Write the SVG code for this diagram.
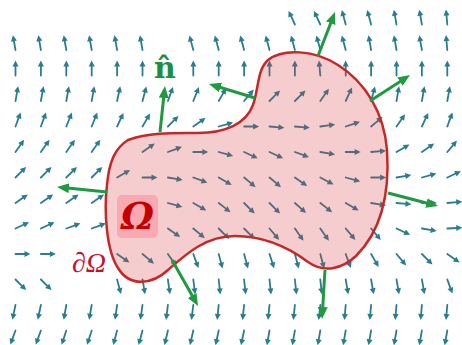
<svg xmlns="http://www.w3.org/2000/svg" width="462" height="345" viewBox="0 0 462 345">
<style>
.v line{stroke:#2a7d90;stroke-width:1.8;stroke-linecap:round}
.v path{fill:#2a7d90}
.n{stroke:#1f9a40;stroke-width:3;fill:none;marker-end:url(#gh)}
.lbl{font-family:"DejaVu Serif","Liberation Serif",serif}
</style>
<defs>
<g id="v" class="v"><line x1="0" y1="0" x2="10" y2="0"/><path d="M15,0 L9,-3 L9,3 Z"/></g>
<marker id="gh" markerUnits="userSpaceOnUse" markerWidth="13" markerHeight="11" refX="4" refY="5" orient="auto"><path d="M0,0 L12,5 L0,10 Z" fill="#1f9a40"/></marker>
</defs>
<rect width="462" height="345" fill="#ffffff"/>
<g id="field">
<use href="#v" transform="translate(294.9,24.5) rotate(-115)"/>
<use href="#v" transform="translate(320.3,24.5) rotate(-115)"/>
<use href="#v" transform="translate(345.7,24.5) rotate(-105)"/>
<use href="#v" transform="translate(371.1,24.5) rotate(-105)"/>
<use href="#v" transform="translate(396.5,24.5) rotate(-100)"/>
<use href="#v" transform="translate(421.9,24.5) rotate(-100)"/>
<use href="#v" transform="translate(447.3,24.5) rotate(-95)"/>
<use href="#v" transform="translate(15.5,50) rotate(-100)"/>
<use href="#v" transform="translate(40.9,50) rotate(-100)"/>
<use href="#v" transform="translate(66.3,50) rotate(-100)"/>
<use href="#v" transform="translate(91.7,50) rotate(-100)"/>
<use href="#v" transform="translate(117.1,50) rotate(-100)"/>
<use href="#v" transform="translate(142.5,50) rotate(-100)"/>
<use href="#v" transform="translate(193.3,50) rotate(-105)"/>
<use href="#v" transform="translate(218.7,50) rotate(-105)"/>
<use href="#v" transform="translate(244.1,50) rotate(-105)"/>
<use href="#v" transform="translate(269.5,50) rotate(-105)"/>
<use href="#v" transform="translate(294.9,50) rotate(-105)"/>
<use href="#v" transform="translate(320.3,50) rotate(-105)"/>
<use href="#v" transform="translate(345.7,50) rotate(-105)"/>
<use href="#v" transform="translate(371.1,50) rotate(-100)"/>
<use href="#v" transform="translate(396.5,50) rotate(-100)"/>
<use href="#v" transform="translate(421.9,50) rotate(-100)"/>
<use href="#v" transform="translate(447.3,50) rotate(-95)"/>
<use href="#v" transform="translate(15.5,75.5) rotate(-90)"/>
<use href="#v" transform="translate(40.9,75.5) rotate(-90)"/>
<use href="#v" transform="translate(66.3,75.5) rotate(-90)"/>
<use href="#v" transform="translate(91.7,75.5) rotate(-90)"/>
<use href="#v" transform="translate(117.1,75.5) rotate(-90)"/>
<use href="#v" transform="translate(142.5,75.5) rotate(-90)"/>
<use href="#v" transform="translate(193.3,75.5) rotate(-90)"/>
<use href="#v" transform="translate(218.7,75.5) rotate(-90)"/>
<use href="#v" transform="translate(244.1,75.5) rotate(-90)"/>
<use href="#v" transform="translate(269.5,75.5) rotate(-90)"/>
<use href="#v" transform="translate(294.9,75.5) rotate(-90)"/>
<use href="#v" transform="translate(320.3,75.5) rotate(-95)"/>
<use href="#v" transform="translate(345.7,75.5) rotate(-90)"/>
<use href="#v" transform="translate(371.1,75.5) rotate(-90)"/>
<use href="#v" transform="translate(396.5,75.5) rotate(-90)"/>
<use href="#v" transform="translate(421.9,75.5) rotate(-90)"/>
<use href="#v" transform="translate(447.3,75.5) rotate(-90)"/>
<use href="#v" transform="translate(15.5,101) rotate(-80)"/>
<use href="#v" transform="translate(40.9,101) rotate(-80)"/>
<use href="#v" transform="translate(66.3,101) rotate(-80)"/>
<use href="#v" transform="translate(91.7,101) rotate(-80)"/>
<use href="#v" transform="translate(117.1,101) rotate(-78)"/>
<use href="#v" transform="translate(142.5,101) rotate(-75)"/>
<use href="#v" transform="translate(167.9,101) rotate(-70)"/>
<use href="#v" transform="translate(193.3,101) rotate(-68)"/>
<use href="#v" transform="translate(218.7,101) rotate(-60)"/>
<use href="#v" transform="translate(244.1,101) rotate(-50)"/>
<use href="#v" transform="translate(269.5,101) rotate(-45)"/>
<use href="#v" transform="translate(294.9,101) rotate(-45)"/>
<use href="#v" transform="translate(320.3,101) rotate(-55)"/>
<use href="#v" transform="translate(345.7,101) rotate(-65)"/>
<use href="#v" transform="translate(371.1,101) rotate(-75)"/>
<use href="#v" transform="translate(396.5,101) rotate(-80)"/>
<use href="#v" transform="translate(421.9,101) rotate(-80)"/>
<use href="#v" transform="translate(447.3,101) rotate(-80)"/>
<use href="#v" transform="translate(15.5,126.5) rotate(-70)"/>
<use href="#v" transform="translate(40.9,126.5) rotate(-70)"/>
<use href="#v" transform="translate(66.3,126.5) rotate(-68)"/>
<use href="#v" transform="translate(91.7,126.5) rotate(-68)"/>
<use href="#v" transform="translate(117.1,126.5) rotate(-65)"/>
<use href="#v" transform="translate(142.5,126.5) rotate(-60)"/>
<use href="#v" transform="translate(167.9,126.5) rotate(-45)"/>
<use href="#v" transform="translate(193.3,126.5) rotate(-35)"/>
<use href="#v" transform="translate(218.7,126.5) rotate(-15)"/>
<use href="#v" transform="translate(244.1,126.5) rotate(0)"/>
<use href="#v" transform="translate(269.5,126.5) rotate(5)"/>
<use href="#v" transform="translate(294.9,126.5) rotate(5)"/>
<use href="#v" transform="translate(320.3,126.5) rotate(-8)"/>
<use href="#v" transform="translate(345.7,126.5) rotate(-18)"/>
<use href="#v" transform="translate(371.1,126.5) rotate(-40)"/>
<use href="#v" transform="translate(396.5,126.5) rotate(-55)"/>
<use href="#v" transform="translate(421.9,126.5) rotate(-65)"/>
<use href="#v" transform="translate(447.3,126.5) rotate(-70)"/>
<use href="#v" transform="translate(15.5,152) rotate(-55)"/>
<use href="#v" transform="translate(40.9,152) rotate(-55)"/>
<use href="#v" transform="translate(66.3,152) rotate(-55)"/>
<use href="#v" transform="translate(91.7,152) rotate(-55)"/>
<use href="#v" transform="translate(142.5,152) rotate(-35)"/>
<use href="#v" transform="translate(167.9,152) rotate(-20)"/>
<use href="#v" transform="translate(193.3,152) rotate(0)"/>
<use href="#v" transform="translate(218.7,152) rotate(15)"/>
<use href="#v" transform="translate(244.1,152) rotate(25)"/>
<use href="#v" transform="translate(269.5,152) rotate(25)"/>
<use href="#v" transform="translate(294.9,152) rotate(20)"/>
<use href="#v" transform="translate(320.3,152) rotate(10)"/>
<use href="#v" transform="translate(345.7,152) rotate(0)"/>
<use href="#v" transform="translate(371.1,152) rotate(-5)"/>
<use href="#v" transform="translate(396.5,152) rotate(-30)"/>
<use href="#v" transform="translate(421.9,152) rotate(-35)"/>
<use href="#v" transform="translate(447.3,152) rotate(-50)"/>
<use href="#v" transform="translate(15.5,177.5) rotate(-45)"/>
<use href="#v" transform="translate(40.9,177.5) rotate(-45)"/>
<use href="#v" transform="translate(66.3,177.5) rotate(-45)"/>
<use href="#v" transform="translate(91.7,177.5) rotate(-45)"/>
<use href="#v" transform="translate(117.1,177.5) rotate(-30)"/>
<use href="#v" transform="translate(142.5,177.5) rotate(0)"/>
<use href="#v" transform="translate(167.9,177.5) rotate(10)"/>
<use href="#v" transform="translate(193.3,177.5) rotate(20)"/>
<use href="#v" transform="translate(218.7,177.5) rotate(30)"/>
<use href="#v" transform="translate(244.1,177.5) rotate(40)"/>
<use href="#v" transform="translate(269.5,177.5) rotate(40)"/>
<use href="#v" transform="translate(294.9,177.5) rotate(35)"/>
<use href="#v" transform="translate(320.3,177.5) rotate(28)"/>
<use href="#v" transform="translate(345.7,177.5) rotate(15)"/>
<use href="#v" transform="translate(371.1,177.5) rotate(0)"/>
<use href="#v" transform="translate(396.5,177.5) rotate(-10)"/>
<use href="#v" transform="translate(421.9,177.5) rotate(-15)"/>
<use href="#v" transform="translate(447.3,177.5) rotate(-25)"/>
<use href="#v" transform="translate(15.5,203) rotate(-35)"/>
<use href="#v" transform="translate(40.9,203) rotate(-35)"/>
<use href="#v" transform="translate(66.3,203) rotate(-35)"/>
<use href="#v" transform="translate(91.7,203) rotate(-35)"/>
<use href="#v" transform="translate(167.9,203) rotate(15)"/>
<use href="#v" transform="translate(193.3,203) rotate(30)"/>
<use href="#v" transform="translate(218.7,203) rotate(38)"/>
<use href="#v" transform="translate(244.1,203) rotate(45)"/>
<use href="#v" transform="translate(269.5,203) rotate(45)"/>
<use href="#v" transform="translate(294.9,203) rotate(42)"/>
<use href="#v" transform="translate(320.3,203) rotate(38)"/>
<use href="#v" transform="translate(345.7,203) rotate(30)"/>
<use href="#v" transform="translate(371.1,203) rotate(10)"/>
<use href="#v" transform="translate(396.5,203) rotate(5)"/>
<use href="#v" transform="translate(421.9,203) rotate(0)"/>
<use href="#v" transform="translate(447.3,203) rotate(-5)"/>
<use href="#v" transform="translate(15.5,228.5) rotate(-25)"/>
<use href="#v" transform="translate(40.9,228.5) rotate(-25)"/>
<use href="#v" transform="translate(66.3,228.5) rotate(-20)"/>
<use href="#v" transform="translate(91.7,228.5) rotate(-20)"/>
<use href="#v" transform="translate(167.9,228.5) rotate(35)"/>
<use href="#v" transform="translate(193.3,228.5) rotate(40)"/>
<use href="#v" transform="translate(218.7,228.5) rotate(45)"/>
<use href="#v" transform="translate(244.1,228.5) rotate(45)"/>
<use href="#v" transform="translate(269.5,228.5) rotate(50)"/>
<use href="#v" transform="translate(294.9,228.5) rotate(55)"/>
<use href="#v" transform="translate(320.3,228.5) rotate(55)"/>
<use href="#v" transform="translate(345.7,228.5) rotate(50)"/>
<use href="#v" transform="translate(371.1,228.5) rotate(50)"/>
<use href="#v" transform="translate(396.5,228.5) rotate(25)"/>
<use href="#v" transform="translate(421.9,228.5) rotate(10)"/>
<use href="#v" transform="translate(447.3,228.5) rotate(-3)"/>
<use href="#v" transform="translate(15.5,254) rotate(0)"/>
<use href="#v" transform="translate(40.9,254) rotate(0)"/>
<use href="#v" transform="translate(117.1,254) rotate(35)"/>
<use href="#v" transform="translate(142.5,254) rotate(40)"/>
<use href="#v" transform="translate(167.9,254) rotate(55)"/>
<use href="#v" transform="translate(193.3,254) rotate(70)"/>
<use href="#v" transform="translate(218.7,254) rotate(75)"/>
<use href="#v" transform="translate(244.1,254) rotate(75)"/>
<use href="#v" transform="translate(269.5,254) rotate(72)"/>
<use href="#v" transform="translate(294.9,254) rotate(75)"/>
<use href="#v" transform="translate(320.3,254) rotate(75)"/>
<use href="#v" transform="translate(345.7,254) rotate(70)"/>
<use href="#v" transform="translate(371.1,254) rotate(60)"/>
<use href="#v" transform="translate(396.5,254) rotate(50)"/>
<use href="#v" transform="translate(421.9,254) rotate(45)"/>
<use href="#v" transform="translate(447.3,254) rotate(35)"/>
<use href="#v" transform="translate(15.5,279.5) rotate(45)"/>
<use href="#v" transform="translate(40.9,279.5) rotate(45)"/>
<use href="#v" transform="translate(117.1,279.5) rotate(75)"/>
<use href="#v" transform="translate(142.5,279.5) rotate(80)"/>
<use href="#v" transform="translate(167.9,279.5) rotate(82)"/>
<use href="#v" transform="translate(193.3,279.5) rotate(83)"/>
<use href="#v" transform="translate(218.7,279.5) rotate(84)"/>
<use href="#v" transform="translate(244.1,279.5) rotate(84)"/>
<use href="#v" transform="translate(269.5,279.5) rotate(84)"/>
<use href="#v" transform="translate(294.9,279.5) rotate(84)"/>
<use href="#v" transform="translate(320.3,279.5) rotate(84)"/>
<use href="#v" transform="translate(345.7,279.5) rotate(80)"/>
<use href="#v" transform="translate(371.1,279.5) rotate(80)"/>
<use href="#v" transform="translate(396.5,279.5) rotate(80)"/>
<use href="#v" transform="translate(421.9,279.5) rotate(80)"/>
<use href="#v" transform="translate(447.3,279.5) rotate(70)"/>
<use href="#v" transform="translate(15.5,305) rotate(102)"/>
<use href="#v" transform="translate(40.9,305) rotate(102)"/>
<use href="#v" transform="translate(66.3,305) rotate(100)"/>
<use href="#v" transform="translate(91.7,305) rotate(100)"/>
<use href="#v" transform="translate(117.1,305) rotate(98)"/>
<use href="#v" transform="translate(142.5,305) rotate(98)"/>
<use href="#v" transform="translate(167.9,305) rotate(97)"/>
<use href="#v" transform="translate(193.3,305) rotate(97)"/>
<use href="#v" transform="translate(218.7,305) rotate(96)"/>
<use href="#v" transform="translate(244.1,305) rotate(96)"/>
<use href="#v" transform="translate(269.5,305) rotate(96)"/>
<use href="#v" transform="translate(294.9,305) rotate(96)"/>
<use href="#v" transform="translate(320.3,305) rotate(96)"/>
<use href="#v" transform="translate(345.7,305) rotate(95)"/>
<use href="#v" transform="translate(371.1,305) rotate(95)"/>
<use href="#v" transform="translate(396.5,305) rotate(95)"/>
<use href="#v" transform="translate(421.9,305) rotate(95)"/>
<use href="#v" transform="translate(447.3,305) rotate(95)"/>
<use href="#v" transform="translate(15.5,330.5) rotate(110)"/>
<use href="#v" transform="translate(40.9,330.5) rotate(110)"/>
<use href="#v" transform="translate(66.3,330.5) rotate(108)"/>
<use href="#v" transform="translate(91.7,330.5) rotate(108)"/>
<use href="#v" transform="translate(117.1,330.5) rotate(105)"/>
<use href="#v" transform="translate(142.5,330.5) rotate(105)"/>
<use href="#v" transform="translate(167.9,330.5) rotate(103)"/>
<use href="#v" transform="translate(193.3,330.5) rotate(103)"/>
<use href="#v" transform="translate(218.7,330.5) rotate(102)"/>
<use href="#v" transform="translate(244.1,330.5) rotate(102)"/>
<use href="#v" transform="translate(269.5,330.5) rotate(100)"/>
<use href="#v" transform="translate(294.9,330.5) rotate(100)"/>
<use href="#v" transform="translate(320.3,330.5) rotate(100)"/>
<use href="#v" transform="translate(345.7,330.5) rotate(100)"/>
<use href="#v" transform="translate(371.1,330.5) rotate(100)"/>
<use href="#v" transform="translate(396.5,330.5) rotate(100)"/>
<use href="#v" transform="translate(421.9,330.5) rotate(100)"/>
<use href="#v" transform="translate(447.3,330.5) rotate(100)"/>
</g>
<g id="region">
<path d="M128,140 C150,132 175,133 198,133 C225,133 246,124 253,105 C259,88 257,70 268,60 C283,48 315,50 338,65 C365,82 384,112 387,150 C390,195 380,232 356,256 C343,268 325,274 308,262 C288,247 265,236 235,236 C205,236 185,255 168,270 C153,284 130,288 118,268 C106,250 104,210 107,185 C109,162 115,148 128,140 Z" fill="#d9363e" fill-opacity="0.25" stroke="#c62828" stroke-width="2.5"/>
</g>
<g id="omega-label">
<rect x="117" y="195" width="41" height="43" rx="5" fill="#f9a9b2"/>
<text x="137.5" y="229" text-anchor="middle" class="lbl" font-family="Liberation Serif" font-size="37" font-weight="bold" font-style="italic" fill="#c40000">Ω</text>
</g>
<g id="boundary-label">
<text x="72" y="272" class="lbl" font-size="28" font-style="italic" fill="#c8102e" style="font-family:'Liberation Serif',serif">∂Ω</text>
</g>
<g id="normals">
<line class="n" x1="160" y1="132" x2="164.1" y2="94"/>
<line class="n" x1="255" y1="98" x2="216.6" y2="86.3"/>
<line class="n" x1="318" y1="56" x2="332.1" y2="19.5"/>
<line class="n" x1="370" y1="101" x2="403.3" y2="79.4"/>
<line class="n" x1="388" y1="193" x2="430.3" y2="204"/>
<line class="n" x1="325" y1="270" x2="322.5" y2="311"/>
<line class="n" x1="172" y1="260" x2="194.1" y2="299"/>
<line class="n" x1="107" y1="192" x2="65" y2="187.8"/>
</g>
<g id="n-label">
<text x="165" y="78" text-anchor="middle" class="lbl" font-size="30" font-weight="bold" fill="#1f8f3e">n̂</text>
</g>
</svg>
